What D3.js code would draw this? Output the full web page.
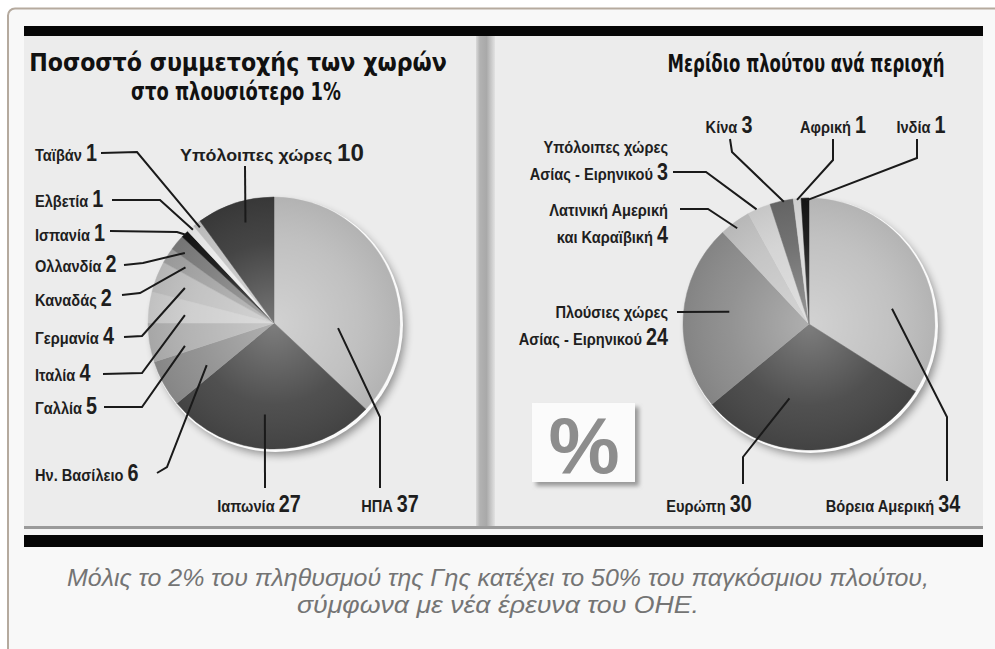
<!DOCTYPE html>
<html lang="el">
<head>
<meta charset="UTF-8">
<title>wealth pies</title>
<script src="https://d3js.org/d3.v7.min.js"></script>
<style>
  body { margin: 0; background: #fff; }
  svg { display: block; }
  .nm { font-size: 17px; font-weight: bold; }
  .num { font-size: 23px; font-weight: bold; }
  .lbl { font-family: "Liberation Sans", Arial, sans-serif; fill: #1e1e1e; }
</style>
</head>
<body>
<div id="chart"></div>
<script>
  // data
  var leftNames = ["ΗΠΑ", "Ιαπωνία", "Ην. Βασίλειο", "Γαλλία", "Ιταλία", "Γερμανία",
    "Καναδάς", "Ολλανδία", "Ισπανία", "Ελβετία", "Ταϊβάν", "Υπόλοιπες χώρες"];
  var leftValues = [37, 27, 6, 5, 4, 4, 2, 2, 1, 1, 1, 10];
  var leftShades = ["#bebebe", "#474747", "#8e8e8e", "#b1b1b1", "#cdcdcd", "#c0c0c0",
    "#a2a2a2", "#7c7c7c", "#141414", "#ececec", "#c4c4c4", "#3b3b3b"];

  var rightNames = ["Βόρεια Αμερική", "Ευρώπη", "Πλούσιες χώρες\nΑσίας - Ειρηνικού",
    "Λατινική Αμερική\nκαι Καραϊβική", "Υπόλοιπες χώρες\nΑσίας - Ειρηνικού",
    "Κίνα", "Αφρική", "Ινδία"];
  var rightValues = [34, 30, 24, 4, 3, 3, 1, 1];
  var rightShades = ["#bfbfbf", "#474747", "#8c8c8c", "#c3c3c3", "#d3d3d3",
    "#6a6a6a", "#d9d9d9", "#151515"];

  var leftTitle = ["Ποσοστό συμμετοχής των χωρών", "στο πλουσιότερο 1%"];
  var rightTitle = "Μερίδιο πλούτου ανά περιοχή";
  var caption = ["Μόλις το 2% του πληθυσμού της Γης κατέχει το 50% του παγκόσμιου πλούτου,",
    "σύμφωνα με νέα έρευνα του ΟΗΕ."];

  // label placement (t = position inside slice, rf = radius fraction)
  var leftLayout = [
    { t: 0.71, rf: 0.51, pts: [[380, 417], [380, 488]], at: [390, 512], anchor: "middle" },
    { t: 0.54, rf: 0.73, pts: [[265, 488]], at: [259, 512], anchor: "middle" },
    { t: 0.35, rf: 0.63, pts: [[167, 467], [157, 473]], at: [35, 481], anchor: "start" },
    { t: 0.2, rf: 0.73, pts: [[142, 407], [104, 407]], at: [35, 414], anchor: "start" },
    { t: 0.35, rf: 0.71, pts: [[142, 373], [103, 374]], at: [35, 381], anchor: "start" },
    { t: 0.49, rf: 0.76, pts: [[142, 336], [124, 337]], at: [35, 344], anchor: "start" },
    { t: 0.47, rf: 0.83, pts: [[140, 293], [122, 295]], at: [35, 306], anchor: "start" },
    { t: 0.3, rf: 0.9, pts: [[143, 263], [124, 265]], at: [35, 272], anchor: "start" },
    { t: 0.5, rf: 0.99, pts: [[177, 232], [110, 231]], at: [35, 241], anchor: "start" },
    { t: 0.6, rf: 0.98, pts: [[160, 200], [112, 200]], at: [35, 207], anchor: "start" },
    { t: 0.5, rf: 0.96, pts: [[137, 152], [101, 153]], at: [35, 161], anchor: "start" },
    { t: 0.56, rf: 0.83, pts: [[245, 166]], at: [272, 161], anchor: "middle", sx: 1.05 }
  ];
  var rightLayout = [
    { t: 0.65, rf: 0.67, pts: [[947, 417], [947, 481]], at: [893, 512], anchor: "middle" },
    { t: 0.67, rf: 0.61, pts: [[743, 457], [743, 484]], at: [709, 512], anchor: "middle" },
    { t: 0.56, rf: 0.64, pts: [[677, 312]], at: [668, 318], anchor: "end" },
    { t: 0.44, rf: 0.95, pts: [[708, 209], [680, 209]], at: [668, 216], anchor: "end" },
    { t: 0.39, rf: 1.0, pts: [[706, 172], [673, 172]], at: [668, 153], anchor: "end" },
    { t: 0.59, rf: 0.99, pts: [[732, 152], [730, 139]], at: [729, 133], anchor: "middle" },
    { t: 0.47, rf: 0.99, pts: [[833, 160], [833, 139]], at: [833, 133], anchor: "middle" },
    { t: 0.6, rf: 0.98, pts: [[917, 158], [917, 139]], at: [921, 133], anchor: "middle" }
  ];

  var W = 995, H = 649, R = 126;
  var sx = 0.86;

  var svg = d3.select("#chart").append("svg").attr("width", W).attr("height", H);
  var defs = svg.append("defs");

  var blur = defs.append("filter").attr("id", "blur").attr("x", "-20%").attr("y", "-20%")
    .attr("width", "140%").attr("height", "140%");
  blur.append("feGaussianBlur").attr("stdDeviation", 4);

  var boxBlur = defs.append("filter").attr("id", "boxblur");
  boxBlur.append("feGaussianBlur").attr("stdDeviation", 2);

  var shine = defs.append("radialGradient").attr("id", "shine");
  shine.append("stop").attr("offset", "0%").attr("stop-color", "#fff").attr("stop-opacity", 0.3);
  shine.append("stop").attr("offset", "65%").attr("stop-color", "#fff").attr("stop-opacity", 0.05);
  shine.append("stop").attr("offset", "100%").attr("stop-color", "#000").attr("stop-opacity", 0.06);

  var divGrad = defs.append("linearGradient").attr("id", "divider");
  [["0%", "#dadada"], ["20%", "#b2b2b2"], ["55%", "#a9a9a9"], ["100%", "#e2e2e2"]].forEach(function (s) {
    divGrad.append("stop").attr("offset", s[0]).attr("stop-color", s[1]);
  });

  // outer frame
  svg.append("rect").attr("x", 8).attr("y", 8.5).attr("width", 1010).attr("height", 700)
    .attr("rx", 7).attr("fill", "#f8f8f8").attr("stroke", "#b5aa9e").attr("stroke-width", 2);

  // newspaper picture
  svg.append("rect").attr("x", 24).attr("y", 26).attr("width", 959).attr("height", 521).attr("fill", "#ececec");
  svg.append("rect").attr("x", 24).attr("y", 26).attr("width", 959).attr("height", 10).attr("fill", "#060606");
  svg.append("rect").attr("x", 476).attr("y", 36).attr("width", 19).attr("height", 491).attr("fill", "url(#divider)");
  svg.append("rect").attr("x", 24).attr("y", 526).attr("width", 959).attr("height", 3).attr("fill", "#9a9a9a");
  svg.append("rect").attr("x", 24).attr("y", 529).attr("width", 959).attr("height", 6).attr("fill", "#f4f4f4");
  svg.append("rect").attr("x", 24).attr("y", 535).attr("width", 959).attr("height", 12).attr("fill", "#050505");

  // titles (squeezed to the width of the printed headline)
  var titleFont = '"DejaVu Sans Condensed", "DejaVu Sans", sans-serif';
  function title(txt, x, y, len, size) {
    var t = svg.append("text").attr("text-anchor", "middle")
      .attr("font-family", titleFont).attr("font-weight", "bold").attr("font-size", size)
      .attr("fill", "#111").text(txt);
    var k = len / t.node().getComputedTextLength();
    t.attr("transform", "translate(" + x + "," + y + ") scale(" + k + ",1)");
  }
  title(leftTitle[0], 238, 71, 418, 24);
  title(leftTitle[1], 236, 100, 210, 24);
  title(rightTitle, 806, 72, 277, 24);

  // "%" box
  svg.append("rect").attr("x", 536).attr("y", 407).attr("width", 103).attr("height", 79)
    .attr("fill", "#999").attr("filter", "url(#boxblur)");
  svg.append("rect").attr("x", 532).attr("y", 403).attr("width", 103).attr("height", 79).attr("fill", "#fbfbfb");
  svg.append("text").attr("x", 584).attr("y", 473).attr("text-anchor", "middle")
    .attr("font-family", '"Liberation Sans", Arial, sans-serif').attr("font-weight", "bold")
    .attr("font-size", 80).attr("fill", "#8d8d8d").text("%");

  function drawPie(cx, cy, names, values, shades, layout) {
    var g = svg.append("g").attr("transform", "translate(" + cx + "," + cy + ")");
    var pie = d3.pie().sort(null).value(function (d) { return d; });
    var arcs = pie(values);
    var arc = d3.arc().innerRadius(0).outerRadius(R);

    g.append("circle").attr("cx", 5).attr("cy", 6).attr("r", R).attr("fill", "#000")
      .attr("opacity", 0.4).attr("filter", "url(#blur)");
    g.append("circle").attr("cx", 1.5).attr("cy", 1.5).attr("r", R + 1.5).attr("fill", "#fafafa");

    g.selectAll("path.slice").data(arcs).enter().append("path")
      .attr("class", "slice")
      .attr("d", arc)
      .attr("fill", function (d, i) { return shades[i]; })
      .attr("stroke", function (d, i) { return shades[i]; })
      .attr("stroke-width", 0.5);

    g.append("circle").attr("r", R).attr("fill", "url(#shine)");

    // leader lines and labels
    arcs.forEach(function (a, i) {
      var L = layout[i];
      var ang = a.startAngle + L.t * (a.endAngle - a.startAngle);
      var r = R * L.rf;
      var inner = [cx + r * Math.sin(ang), cy - r * Math.cos(ang)];
      var pts = [inner].concat(L.pts);
      svg.append("path").attr("d", d3.line()(pts)).attr("fill", "none")
        .attr("stroke", "#1a1a1a").attr("stroke-width", 2);

      var lines = names[i].split("\n");
      var k0 = lines.length - 1;
      lines.forEach(function (ln, k) {
        var t = svg.append("text").attr("class", "lbl")
          .attr("transform", "translate(" + L.at[0] + "," + (L.at[1] + k * 27) + ") scale(" + (L.sx || sx) + ",1)")
          .attr("text-anchor", L.anchor);
        t.append("tspan").attr("class", "nm").text(ln + (k === k0 ? " " : ""));
        if (k === k0) t.append("tspan").attr("class", "num").text(values[i]);
      });
    });
  }

  drawPie(274, 323, leftNames, leftValues, leftShades, leftLayout);
  drawPie(809, 324, rightNames, rightValues, rightShades, rightLayout);

  // caption
  caption.forEach(function (c, i) {
    svg.append("text").attr("x", 498).attr("y", 586 + i * 27).attr("text-anchor", "middle")
      .attr("font-family", '"Liberation Sans", Arial, sans-serif').attr("font-style", "italic")
      .attr("font-size", 24).attr("fill", "#747474")
      .attr("textLength", i === 0 ? 862 : 402).attr("lengthAdjust", "spacingAndGlyphs")
      .text(c);
  });
</script>
</body>
</html>
